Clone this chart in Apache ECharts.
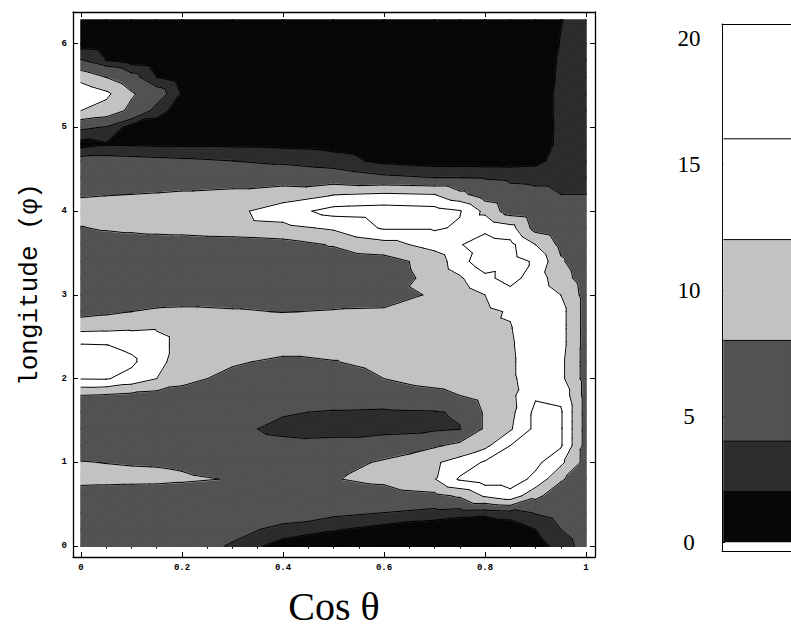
<!DOCTYPE html>
<html>
<head>
<meta charset="utf-8">
<script src="https://cdn.jsdelivr.net/npm/echarts@6/dist/echarts.min.js"></script>
<style>
  html, body { margin: 0; padding: 0; background: #ffffff; }
  #chart { width: 791px; height: 631px; }
</style>
</head>
<body>
<div id="chart"></div>
<script>
// Sample grid: columns are cos(theta), rows are longitude phi (0 .. 2*pi)
const cosTheta = [0, 0.05, 0.1, 0.15, 0.2, 0.3, 0.4, 0.5, 0.6, 0.7, 0.75, 0.8, 0.85, 0.9, 0.95, 1];
const phi = [0, 0.2, 0.4, 0.6, 0.8, 1.0, 1.2, 1.4, 1.6, 1.8, 2.0, 2.2, 2.4, 2.6, 2.8, 3.0,
             3.2, 3.4, 3.6, 3.8, 4.0, 4.2, 4.4, 4.6, 4.8, 5.0, 5.2, 5.4, 5.6, 5.8, 6.0, 6.2832];

// intensity[row][col]: row follows phi, col follows cosTheta
const intensity = [
  [5.5, 5.5, 5.5, 5.2, 5.0, 3.8, 0.8, 0.6, 0.5, 0.5, 0.5, 0.5, 0.6, 1.0, 2.8, 5.0],
  [5.5, 5.5, 5.5, 5.5, 5.2, 4.6, 3.5, 2.2, 1.2, 0.8, 0.6, 0.6, 0.7, 2.0, 4.0, 5.5],
  [5.5, 5.5, 5.5, 5.5, 5.5, 5.3, 5.0, 4.6, 4.0, 3.0, 2.6, 2.4, 3.0, 4.2, 5.0, 5.5],
  [5.5, 5.5, 5.5, 5.5, 5.5, 5.5, 5.5, 5.5, 6.0, 7.0, 8.5, 12.5, 14.5, 9.0, 5.5, 5.5],
  [9.5, 9.3, 9.1, 9.0, 8.6, 7.8, 5.5, 7.8, 9.0, 11.8, 16.5, 18.0, 18.0, 15.0, 8.5, 5.5],
  [8.2, 7.9, 7.7, 7.6, 7.3, 6.0, 5.5, 6.5, 8.5, 11.5, 13.5, 16.5, 18.0, 17.0, 13.0, 6.5],
  [5.5, 5.5, 5.5, 5.5, 5.5, 5.0, 4.6, 4.8, 5.5, 7.5, 9.0, 11.0, 16.0, 17.5, 16.5, 6.5],
  [5.5, 5.5, 5.5, 5.5, 5.3, 4.5, 3.5, 3.2, 3.2, 3.5, 3.9, 8.5, 11.5, 17.0, 16.5, 6.5],
  [5.5, 5.5, 5.5, 5.5, 5.5, 5.0, 4.2, 3.8, 3.6, 3.8, 4.3, 8.5, 10.8, 17.0, 16.5, 6.5],
  [8.0, 7.6, 7.0, 6.5, 6.0, 5.5, 5.5, 5.5, 5.8, 6.8, 8.0, 9.5, 11.0, 15.5, 15.0, 6.5],
  [16.2, 16.3, 14.5, 12.0, 9.5, 6.5, 5.5, 5.5, 8.0, 9.5, 10.0, 10.5, 11.3, 14.0, 13.0, 6.5],
  [18.0, 18.0, 16.8, 13.0, 10.5, 8.6, 7.0, 7.8, 9.5, 10.0, 10.3, 10.5, 11.3, 14.5, 13.0, 6.5],
  [16.3, 16.1, 15.0, 13.0, 11.0, 10.5, 10.0, 10.0, 10.0, 10.5, 10.8, 11.0, 11.5, 14.5, 13.5, 6.5],
  [11.0, 11.2, 11.5, 11.8, 11.0, 10.0, 10.0, 10.0, 10.0, 10.5, 11.0, 11.5, 11.8, 14.5, 13.5, 6.5],
  [6.5, 7.2, 8.0, 8.5, 8.6, 8.3, 7.9, 8.2, 8.3, 10.0, 11.0, 11.3, 12.3, 14.5, 13.5, 6.5],
  [6.0, 6.0, 6.0, 6.2, 6.5, 6.5, 6.5, 6.5, 7.0, 8.3, 10.0, 12.0, 14.5, 14.5, 12.0, 6.5],
  [5.5, 5.5, 5.5, 5.5, 5.5, 5.5, 5.5, 5.8, 6.3, 9.0, 11.5, 15.0, 17.5, 14.0, 9.8, 6.0],
  [5.5, 5.5, 5.5, 5.5, 5.5, 5.5, 5.5, 5.8, 6.5, 9.5, 14.5, 18.5, 17.5, 15.5, 8.5, 5.5],
  [5.5, 5.5, 5.5, 5.5, 5.5, 5.8, 6.5, 8.3, 10.5, 13.5, 15.8, 17.5, 17.0, 12.0, 7.0, 5.5],
  [7.8, 8.5, 9.0, 9.5, 9.8, 10.5, 11.0, 12.6, 16.5, 16.5, 15.5, 15.2, 13.5, 6.5, 5.0, 5.0],
  [10.0, 10.0, 10.0, 10.0, 10.5, 11.0, 14.0, 17.5, 18.0, 17.5, 16.3, 11.0, 6.0, 5.0, 4.5, 4.5],
  [7.5, 7.8, 8.0, 8.2, 8.5, 9.0, 10.0, 11.8, 12.5, 12.0, 9.0, 6.0, 4.8, 4.5, 4.0, 4.0],
  [6.0, 6.0, 6.0, 6.0, 6.0, 6.0, 6.0, 5.5, 4.5, 4.0, 4.0, 3.8, 3.6, 3.5, 3.5, 3.5],
  [5.0, 5.0, 4.8, 4.6, 4.4, 4.0, 3.5, 2.8, 1.5, 1.0, 1.0, 1.0, 1.0, 1.3, 3.0, 3.5],
  [1.2, 1.8, 1.7, 1.6, 1.6, 1.6, 1.5, 1.3, 0.8, 0.5, 0.5, 0.5, 0.5, 0.8, 2.5, 3.2],
  [4.5, 3.8, 1.0, 0.8, 0.6, 0.5, 0.5, 0.5, 0.5, 0.5, 0.5, 0.5, 0.5, 0.6, 2.5, 3.2],
  [12.0, 10.5, 7.0, 3.0, 0.8, 0.5, 0.5, 0.5, 0.5, 0.5, 0.5, 0.5, 0.5, 0.6, 2.6, 3.2],
  [15.0, 12.8, 8.5, 5.5, 1.8, 0.5, 0.5, 0.5, 0.5, 0.5, 0.5, 0.5, 0.5, 0.6, 2.6, 3.2],
  [10.5, 7.9, 5.0, 2.0, 0.8, 0.5, 0.5, 0.5, 0.5, 0.5, 0.5, 0.5, 0.5, 0.6, 2.4, 3.2],
  [4.2, 2.0, 1.0, 0.6, 0.5, 0.5, 0.5, 0.5, 0.5, 0.5, 0.5, 0.5, 0.5, 0.6, 2.3, 3.1],
  [1.0, 0.8, 0.5, 0.5, 0.5, 0.5, 0.5, 0.5, 0.5, 0.5, 0.5, 0.5, 0.5, 0.6, 2.1, 3.0],
  [0.8, 0.6, 0.5, 0.5, 0.5, 0.5, 0.5, 0.5, 0.5, 0.5, 0.5, 0.5, 0.5, 0.6, 1.9, 3.0]
];

const contourLevels = [2, 4, 8, 12, 16];
const bandColors = ['#070707', '#2c2c2c', '#525252', '#c2c2c2', '#ffffff', '#ffffff'];
const scaleLevels = [0, 2, 4, 8, 12, 16, 20];

const xTickValues = [0, 0.2, 0.4, 0.6, 0.8, 1];
const xMinorTickValues = [0.05, 0.1, 0.15, 0.25, 0.3, 0.35, 0.45, 0.5, 0.55, 0.65, 0.7, 0.75, 0.85, 0.9, 0.95];
const yTickValues = [0, 1, 2, 3, 4, 5, 6];
const scaleTickValues = [0, 5, 10, 15, 20];

// one item per grid cell: [x0, y0, colIndex, rowIndex]
const cells = [];
for (let k = 0; k < phi.length - 1; k++) {
  for (let i = 0; i < cosTheta.length - 1; i++) {
    cells.push([cosTheta[i], phi[k], i, k]);
  }
}

function cellTriangles(i, k) {
  const v = (a, b) => [cosTheta[a], phi[b], intensity[b][a]];
  const p00 = v(i, k), p10 = v(i + 1, k), p11 = v(i + 1, k + 1), p01 = v(i, k + 1);
  return [[p00, p10, p11], [p00, p11, p01]];
}

// Sutherland-Hodgman clip of a (x, y, z) polygon against z >= level or z <= level
function clipAt(poly, level, keepAbove) {
  const out = [];
  for (let n = 0; n < poly.length; n++) {
    const a = poly[n], b = poly[(n + 1) % poly.length];
    const ina = keepAbove ? a[2] >= level : a[2] <= level;
    const inb = keepAbove ? b[2] >= level : b[2] <= level;
    if (ina !== inb) {
      const t = (level - a[2]) / (b[2] - a[2]);
      out.push([a[0] + t * (b[0] - a[0]), a[1] + t * (b[1] - a[1]), level]);
    }
    if (inb) out.push(b);
  }
  return out;
}

function renderBands(params, api) {
  const i = api.value(2), k = api.value(3);
  const children = [];
  cellTriangles(i, k).forEach(tri => {
    for (let n = 0; n < bandColors.length; n++) {
      let poly = tri;
      if (n > 0) poly = clipAt(poly, contourLevels[n - 1], true);
      if (poly.length >= 3 && n < contourLevels.length) poly = clipAt(poly, contourLevels[n], false);
      if (poly.length < 3) continue;
      children.push({
        type: 'polygon',
        shape: { points: poly.map(p => api.coord([p[0], p[1]])) },
        style: { fill: bandColors[n], stroke: bandColors[n], lineWidth: 1.5, lineJoin: 'round' }
      });
    }
  });
  return { type: 'group', children };
}

function renderIsolines(params, api) {
  const i = api.value(2), k = api.value(3);
  const children = [];
  cellTriangles(i, k).forEach(tri => {
    contourLevels.forEach(level => {
      const pts = [];
      for (let e = 0; e < 3; e++) {
        const p = tri[e], q = tri[(e + 1) % 3];
        if ((p[2] >= level) !== (q[2] >= level)) {
          const t = (level - p[2]) / (q[2] - p[2]);
          pts.push(api.coord([p[0] + t * (q[0] - p[0]), p[1] + t * (q[1] - p[1])]));
        }
      }
      if (pts.length === 2) {
        children.push({
          type: 'line',
          shape: { x1: pts[0][0], y1: pts[0][1], x2: pts[1][0], y2: pts[1][1] },
          style: { stroke: '#000000', lineWidth: 1, lineCap: 'round' }
        });
      }
    });
  });
  return { type: 'group', children };
}

// colour scale: one band per pair of neighbouring levels
const scaleBands = scaleLevels.slice(0, -1).map((lo, n) => [n, lo, scaleLevels[n + 1]]);

function renderScaleBand(params, api) {
  const n = api.value(0);
  const a = api.coord([0.02, api.value(2)]);
  const b = api.coord([1, api.value(1)]);
  return {
    type: 'rect',
    shape: { x: a[0], y: a[1], width: b[0] - a[0], height: b[1] - a[1] },
    style: { fill: bandColors[n], stroke: bandColors[n], lineWidth: 0.5 }
  };
}

function renderScaleLine(params, api) {
  const a = api.coord([0.02, api.value(0)]);
  const b = api.coord([1, api.value(0)]);
  return {
    type: 'line',
    shape: { x1: a[0], y1: a[1], x2: b[0], y2: b[1] },
    style: { stroke: '#000000', lineWidth: 1 }
  };
}

const frameLine = { show: true, onZero: false, lineStyle: { color: '#000000', width: 1.3 } };
const tickFont = { fontFamily: '"Liberation Mono", monospace', fontWeight: 'bold', fontSize: 9, color: '#000000' };

const option = {
  animation: false,
  backgroundColor: '#ffffff',
  grid: [
    { left: 73, top: 12, width: 522, height: 552 },
    { left: 722, top: 24, width: 200, height: 527 }
  ],
  xAxis: [
    {
      gridIndex: 0, type: 'value', position: 'bottom', min: -0.01584, max: 1.01782,
      axisLine: frameLine,
      axisTick: { show: true, inside: true, length: 5, customValues: xTickValues, lineStyle: { color: '#000' } },
      axisLabel: Object.assign({ customValues: xTickValues, margin: 6 }, tickFont),
      splitLine: { show: false },
      name: 'Cos θ', nameLocation: 'middle', nameGap: 29,
      nameTextStyle: { fontFamily: '"Liberation Serif", serif', fontSize: 40, color: '#000000' }
    },
    {
      gridIndex: 0, type: 'value', position: 'bottom', min: -0.01584, max: 1.01782,
      axisLine: { show: false },
      axisTick: { show: true, inside: true, length: 2.5, customValues: xMinorTickValues, lineStyle: { color: '#000' } },
      axisLabel: { show: false }, splitLine: { show: false }
    },
    {
      gridIndex: 0, type: 'value', position: 'top', min: -0.01584, max: 1.01782,
      axisLine: frameLine,
      axisTick: { show: true, inside: true, length: 5, customValues: xTickValues, lineStyle: { color: '#000' } },
      axisLabel: { show: false }, splitLine: { show: false }
    },
    {
      gridIndex: 0, type: 'value', position: 'top', min: -0.01584, max: 1.01782,
      axisLine: { show: false },
      axisTick: { show: true, inside: true, length: 2.5, customValues: xMinorTickValues, lineStyle: { color: '#000' } },
      axisLabel: { show: false }, splitLine: { show: false }
    },
    {
      gridIndex: 1, type: 'value', position: 'bottom', min: 0, max: 1,
      axisLine: { show: true, onZero: false, lineStyle: { color: '#000', width: 1 } },
      axisTick: { show: false }, axisLabel: { show: false }, splitLine: { show: false }
    },
    {
      gridIndex: 1, type: 'value', position: 'top', min: 0, max: 1,
      axisLine: { show: true, onZero: false, lineStyle: { color: '#000', width: 1 } },
      axisTick: { show: false }, axisLabel: { show: false }, splitLine: { show: false }
    }
  ],
  yAxis: [
    {
      gridIndex: 0, type: 'value', position: 'left', min: -0.12967, max: 6.3775,
      axisLine: frameLine,
      axisTick: { show: true, inside: true, length: 5, customValues: yTickValues, lineStyle: { color: '#000' } },
      axisLabel: Object.assign({ customValues: yTickValues, margin: 6 }, tickFont),
      splitLine: { show: false },
      name: 'longitude (φ)', nameLocation: 'middle', nameRotate: 90, nameGap: 30,
      nameTextStyle: { fontFamily: '"Liberation Mono", monospace', fontSize: 26, color: '#000000' }
    },
    {
      gridIndex: 0, type: 'value', position: 'right', min: -0.12967, max: 6.3775,
      axisLine: frameLine,
      axisTick: { show: true, inside: true, length: 5, customValues: yTickValues, lineStyle: { color: '#000' } },
      axisLabel: { show: false }, splitLine: { show: false }
    },
    {
      gridIndex: 1, type: 'value', position: 'left', min: -0.357, max: 20.556,
      axisLine: { show: true, onZero: false, lineStyle: { color: '#000', width: 1 } },
      axisTick: { show: true, inside: true, length: 3, customValues: scaleTickValues, lineStyle: { color: '#000' } },
      axisLabel: {
        customValues: scaleTickValues, margin: 33, align: 'center',
        fontFamily: '"Liberation Serif", serif', fontSize: 23, color: '#000000'
      },
      splitLine: { show: false }
    }
  ],
  series: [
    {
      type: 'custom', name: 'bands', xAxisIndex: 0, yAxisIndex: 0,
      data: cells, encode: { x: 0, y: 1 }, renderItem: renderBands, clip: true, silent: true, z: 2
    },
    {
      type: 'custom', name: 'isolines', xAxisIndex: 0, yAxisIndex: 0,
      data: cells, encode: { x: 0, y: 1 }, renderItem: renderIsolines, clip: true, silent: true, z: 3
    },
    {
      type: 'custom', name: 'scale', xAxisIndex: 4, yAxisIndex: 2,
      data: scaleBands, encode: { y: [1, 2] }, renderItem: renderScaleBand, silent: true, z: 2
    },
    {
      type: 'custom', name: 'scaleLines', xAxisIndex: 4, yAxisIndex: 2,
      data: contourLevels.map(v => [v]), encode: { y: 0 }, renderItem: renderScaleLine, silent: true, z: 3
    }
  ]
};

const chart = echarts.init(document.getElementById('chart'), null, { renderer: 'svg' });
chart.setOption(option);
</script>
</body>
</html>
